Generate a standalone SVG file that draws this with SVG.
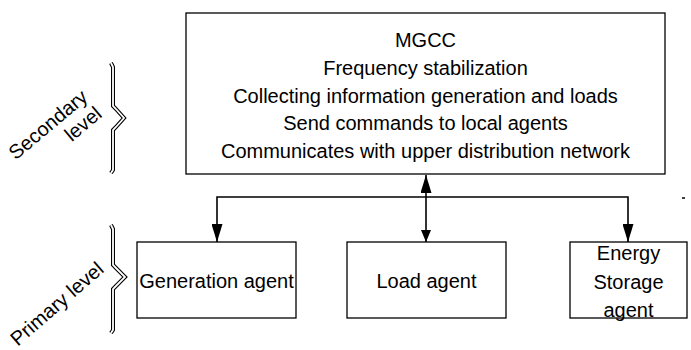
<svg xmlns="http://www.w3.org/2000/svg" width="691" height="350" viewBox="0 0 691 350">
<style>
.box{fill:#fff;stroke:#000;stroke-width:1.3}
.t{font-family:"Liberation Sans",Arial,sans-serif;font-size:20px;fill:#000}
.c{text-anchor:middle}
.conn{fill:none;stroke:#000;stroke-width:1.6}
.braceOut{fill:none;stroke:#000;stroke-width:4;stroke-linejoin:miter}
.braceIn{fill:none;stroke:#fff;stroke-width:1.8;stroke-linejoin:miter}
</style>
<defs>
<marker id="big" markerUnits="userSpaceOnUse" markerWidth="18" markerHeight="11" refX="18" refY="5.5" orient="auto-start-reverse">
<path d="M0,0 L18,5.5 L0,11 Z" fill="#000"/>
</marker>
<marker id="small" markerUnits="userSpaceOnUse" markerWidth="12" markerHeight="10" refX="12" refY="5" orient="auto">
<path d="M0,0 L12,5 L0,10 Z" fill="#000"/>
</marker>
</defs>
<rect width="691" height="350" fill="#fff"/>

<g id="secondary-level">
<path class="braceOut" d="M111,63 L113,67 L113,106 L116,109 L124,118 L116,127 L113,130 L113,170 L111,173"/>
<path class="braceIn" d="M111,63 L113,67 L113,106 L116,109 L124,118 L116,127 L113,130 L113,170 L111,173"/>
<text class="t" text-anchor="end" transform="translate(89,99) rotate(-40)"><tspan x="0" y="0">Secondary</tspan><tspan x="0" dy="22">level</tspan></text>
</g>

<g id="primary-level">
<path class="braceOut" d="M111,225 L113,229 L113,265 L116,268 L125,277 L116,286 L113,289 L113,330 L111,333"/>
<path class="braceIn" d="M111,225 L113,229 L113,265 L116,268 L125,277 L116,286 L113,289 L113,330 L111,333"/>
<text class="t" text-anchor="end" transform="translate(105,271) rotate(-41)">Primary level</text>
</g>

<g id="mgcc">
<rect class="box" x="186" y="13" width="479" height="161"/>
<text class="t c" x="425.5" y="47">MGCC</text>
<text class="t c" x="425.5" y="74.75">Frequency stabilization</text>
<text class="t c" x="425.5" y="102.5">Collecting information generation and loads</text>
<text class="t c" x="425.5" y="130.25">Send commands to local agents</text>
<text class="t c" x="425.5" y="158">Communicates with upper distribution network</text>
</g>

<g id="generation-agent">
<rect class="box" x="137" y="242" width="159" height="76"/>
<text class="t c" x="216.5" y="288">Generation agent</text>
</g>

<g id="load-agent">
<rect class="box" x="347" y="242" width="159" height="76"/>
<text class="t c" x="426.5" y="288">Load agent</text>
</g>

<g id="energy-storage-agent">
<rect class="box" x="570" y="242" width="117" height="76"/>
<text class="t c" x="628.5" y="260">Energy</text>
<text class="t c" x="628.5" y="289">Storage</text>
<text class="t c" x="628.5" y="317">agent</text>
</g>

<g id="connectors">
<path class="conn" d="M426,197 H217 V242" marker-end="url(#big)"/>
<path class="conn" d="M426,197 H628 V242" marker-end="url(#big)"/>
<path class="conn" d="M426,175 V242" marker-start="url(#big)" marker-end="url(#small)"/>
</g>

<line x1="682" y1="198" x2="685" y2="198" stroke="#000" stroke-width="1.5"/>
</svg>
